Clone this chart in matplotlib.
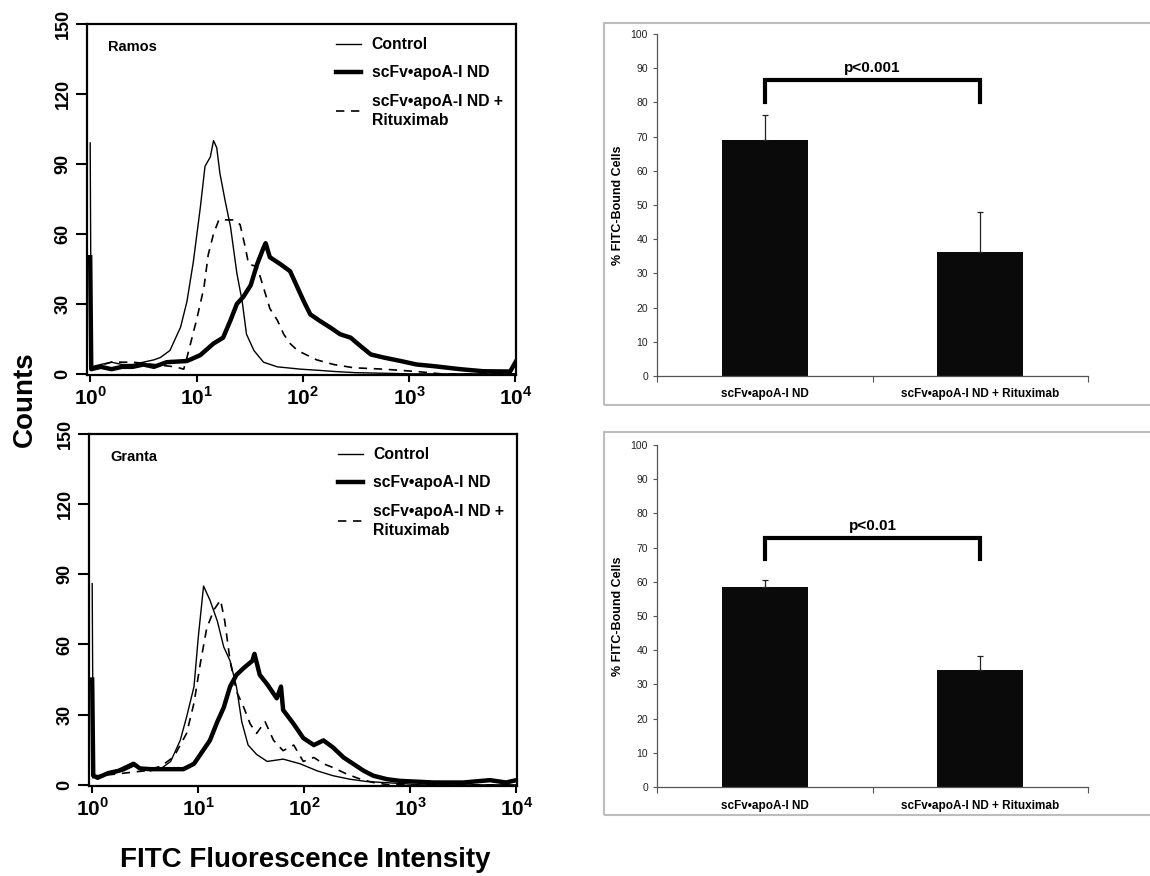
import matplotlib
matplotlib.use("Agg")
import matplotlib.pyplot as plt
import numpy as np
from matplotlib.patches import Rectangle

plt.rcParams['font.family'] = ['Liberation Sans', 'DejaVu Sans']
plt.rcParams['mathtext.fontset'] = 'custom'
plt.rcParams['mathtext.rm'] = 'Liberation Sans:bold'
plt.rcParams['mathtext.bf'] = 'Liberation Sans:bold'

# ---- flow cytometry histograms (log10 intensity, counts) ----
ramos_ctrl_x = [0.0, 0.01, 0.1, 0.2, 0.3, 0.4, 0.5, 0.6, 0.66, 0.75, 0.85, 0.91, 0.97, 1.035, 1.08,
                1.13, 1.16, 1.19, 1.22, 1.27, 1.32, 1.38, 1.43, 1.47, 1.54, 1.63, 1.76, 1.98,
                2.15, 2.3, 2.5, 3.0, 4.0]
ramos_ctrl_y = [99, 3, 4, 5, 4, 4, 5, 6, 7, 10, 20, 31, 48, 71, 89,
                93, 100, 97, 86, 74, 63, 43, 31, 17, 10, 5, 3, 2,
                1.5, 1, 0.5, 0, 0]

ramos_nd_x = [0.0, 0.01, 0.1, 0.2, 0.3, 0.4, 0.5, 0.6, 0.72, 0.91, 1.035, 1.16, 1.25, 1.32, 1.38,
              1.44, 1.51, 1.57, 1.63, 1.65, 1.69, 1.79, 1.88, 1.95, 2.01, 2.07, 2.16, 2.26,
              2.35, 2.45, 2.54, 2.64, 2.76, 2.92, 3.07, 3.23, 3.48, 3.7, 3.95, 4.0]
ramos_nd_y = [50, 2, 3, 2, 3, 3, 4, 3, 5, 5.5, 8, 13, 15.5, 23, 30,
              33, 38, 47, 54, 56, 50, 47, 44, 37, 31, 25.5, 22.7, 19.8,
              17, 15.5, 12, 8.3, 7, 5.5, 4, 3.3, 2, 1.1, 1, 5]

ramos_rtx_x = [0.0, 0.05, 0.2, 0.4, 0.6, 0.8, 0.88, 0.91, 1.0, 1.07, 1.11, 1.16, 1.21, 1.29, 1.35,
               1.41, 1.46, 1.49, 1.57, 1.63, 1.69, 1.76, 1.82, 1.88, 1.95, 2.04, 2.13, 2.29,
               2.48, 2.76, 3.07, 3.3, 4.0]
ramos_rtx_y = [2, 3, 5, 5, 4, 3, 2, 7, 23, 37, 51, 60, 66, 66, 66,
               64, 54, 47, 46, 37, 28, 23, 17, 13, 10, 8, 6, 4,
               2.6, 2, 1, 0, 0]

granta_ctrl_x = [0.0, 0.01, 0.1, 0.2, 0.3, 0.39, 0.55, 0.65, 0.74, 0.83, 0.89, 0.96, 1.0, 1.05, 1.11,
                 1.18, 1.24, 1.30, 1.36, 1.41, 1.47, 1.55, 1.65, 1.80, 1.96, 2.12, 2.27, 2.43,
                 2.59, 2.9, 3.1, 4.0]
granta_ctrl_y = [86, 4, 4, 5, 6, 8, 6, 7, 10, 19, 29, 42, 63, 85, 79,
                 70, 59, 53, 42, 27, 17, 13, 10, 11, 9, 6, 3.9, 2.4,
                 1.4, 0.6, 0, 0]

granta_nd_x = [0.0, 0.01, 0.05, 0.15, 0.25, 0.39, 0.45, 0.55, 0.71, 0.86, 0.96, 1.02, 1.11, 1.18, 1.24,
               1.30, 1.36, 1.43, 1.51, 1.53, 1.58, 1.65, 1.74, 1.78, 1.80, 1.90, 1.99, 2.09,
               2.18, 2.27, 2.37, 2.46, 2.56, 2.65, 2.78, 2.90, 3.22, 3.5, 3.75, 3.9, 4.0]
granta_nd_y = [45, 4, 3, 5, 6, 9, 7, 6.7, 6.7, 6.7, 9, 13, 19, 27, 33,
               42, 47, 50, 53, 56, 47, 43, 37, 42, 32, 26, 20, 17,
               19, 16, 11.7, 9, 6, 3.9, 2.4, 1.7, 1, 1, 2, 1, 2]

granta_rtx_x = [0.0, 0.1, 0.3, 0.5, 0.65, 0.77, 0.89, 0.96, 1.02, 1.08, 1.15, 1.21, 1.25, 1.30, 1.36,
                1.43, 1.49, 1.55, 1.63, 1.71, 1.80, 1.90, 1.99, 2.09, 2.18, 2.27, 2.40, 2.53,
                2.65, 2.8, 4.0]
granta_rtx_y = [3, 4, 5, 6, 8, 12, 22, 35, 52, 67, 75, 79, 70, 53, 40,
                33, 26, 22, 27, 19, 14.6, 17, 10, 11.7, 9, 7.4, 4.6, 2.4,
                1, 0, 0]

# ---- binding summary ----
groups = ['scFv•apoA-I ND', 'scFv•apoA-I ND + Rituximab']
ramos_pct = [69.0, 36.3]
ramos_err = [7.4, 11.6]
granta_pct = [58.5, 34.3]
granta_err = [2.1, 4.0]
ramos_p = 'p<0.001'
granta_p = 'p<0.01'
ramos_bracket = (86.5, 80.2)
granta_bracket = (72.9, 66.8)

W, H = 1150, 876
fig = plt.figure(figsize=(W / 100, H / 100), dpi=100)


def fig_rect(x0, y0, x1, y1):
    return [x0 / W, 1 - y1 / H, (x1 - x0) / W, (y1 - y0) / H]


def draw_hist(ax, name, ctrl, nd, rtx):
    ax.plot(10 ** np.array(ctrl[0]), ctrl[1], color='black', lw=1.0, label='Control')
    ax.plot(10 ** np.array(nd[0]), nd[1], color='black', lw=3.2, label='scFv•apoA-I ND')
    ax.plot(10 ** np.array(rtx[0]), rtx[1], color='black', lw=1.2, ls=(0, (5, 4)),
            label='scFv•apoA-I ND +\nRituximab')
    ax.set_xscale('log')
    ax.set_xlim(10 ** -0.03, 10 ** 4.005)
    ax.set_ylim(-0.5, 150)
    ax.set_yticks([0, 30, 60, 90, 120, 150])
    ax.set_xticks([1, 10, 100, 1000, 10000])
    ax.set_xticklabels([r'$10^{%d}$' % i for i in range(5)])
    ax.minorticks_off()
    ax.tick_params(axis='x', labelsize=15, length=5, width=1.5, pad=3)
    ax.tick_params(axis='y', labelsize=13, length=8, width=1.5, pad=3, labelrotation=90)
    for lab in ax.get_yticklabels():
        lab.set_fontweight('bold')
        lab.set_va('center')
    for s in ax.spines.values():
        s.set_linewidth(1.6)
    ax.text(0.05, 0.935, name, transform=ax.transAxes, fontsize=10.5, fontweight='bold',
            va='center')
    leg = ax.legend(loc='upper left', bbox_to_anchor=(0.548, 1.003), frameon=False,
                    prop={'weight': 'bold', 'size': 11.3}, handlelength=1.6,
                    handletextpad=0.65, labelspacing=0.85)
    for t in leg.get_texts():
        t.set_linespacing(1.35)
    return leg


ax1 = fig.add_axes(fig_rect(87, 24, 516, 375))
draw_hist(ax1, 'Ramos', (ramos_ctrl_x, ramos_ctrl_y), (ramos_nd_x, ramos_nd_y),
          (ramos_rtx_x, ramos_rtx_y))
ax2 = fig.add_axes(fig_rect(89, 434, 517, 786))
draw_hist(ax2, 'Granta', (granta_ctrl_x, granta_ctrl_y), (granta_nd_x, granta_nd_y),
          (granta_rtx_x, granta_rtx_y))

fig.text(25 / W, 1 - 399 / H, 'Counts', rotation=90, fontsize=20, fontweight='bold',
         ha='center', va='center')
fig.text(305 / W, 1 - 860 / H, 'FITC Fluorescence Intensity', fontsize=20,
         fontweight='bold', ha='center', va='center')


def draw_bars(ax, vals, errs, ptext, bracket):
    x = np.arange(len(groups))
    ax.bar(x, vals, width=0.4, color='#0a0a0a', zorder=2)
    ax.errorbar(x, vals, yerr=[np.zeros(len(errs)), errs], fmt='none', ecolor='#222222',
                elinewidth=0.9, capsize=2.5, capthick=0.9, zorder=3)
    ax.set_xlim(-0.5, 1.5)
    ax.set_ylim(0, 100)
    ax.set_yticks(range(0, 101, 10))
    ax.set_xticks(x)
    ax.set_xticklabels(groups, fontsize=8.5, fontweight='bold')
    ax.set_xticks([-0.5, 0.5, 1.5], minor=True)
    ax.tick_params(axis='x', which='major', length=0, pad=9)
    ax.tick_params(axis='x', which='minor', length=4, width=0.8, color='#555555')
    ax.tick_params(axis='y', labelsize=7.5, length=3, width=0.8, color='#555555',
                   labelcolor='#222222')
    for s in ['top', 'right']:
        ax.spines[s].set_visible(False)
    for s in ['left', 'bottom']:
        ax.spines[s].set_color('#555555')
        ax.spines[s].set_linewidth(0.9)
    ax.set_ylabel('% FITC-Bound Cells', fontsize=9, fontweight='bold', labelpad=5)
    top, leg = bracket
    ax.plot([0, 0, 1.0, 1.0], [leg, top, top, leg], color='black', lw=3,
            solid_joinstyle='miter', clip_on=False)
    ax.text(0.5, top + 1.4, ptext, ha='center', va='bottom', fontsize=11, fontweight='bold')


ax3 = fig.add_axes(fig_rect(657, 34, 1088, 376))
draw_bars(ax3, ramos_pct, ramos_err, ramos_p, ramos_bracket)
ax4 = fig.add_axes(fig_rect(657, 445, 1088, 787))
draw_bars(ax4, granta_pct, granta_err, granta_p, granta_bracket)

# light grey frames around the bar panels
for y0, y1 in [(23, 405), (432, 815)]:
    fig.patches.append(Rectangle((604 / W, 1 - y1 / H), (560) / W, (y1 - y0) / H,
                                 transform=fig.transFigure, fill=False,
                                 edgecolor='#bdbdbd', lw=1.5))

fig.savefig('out.png', dpi=100)
